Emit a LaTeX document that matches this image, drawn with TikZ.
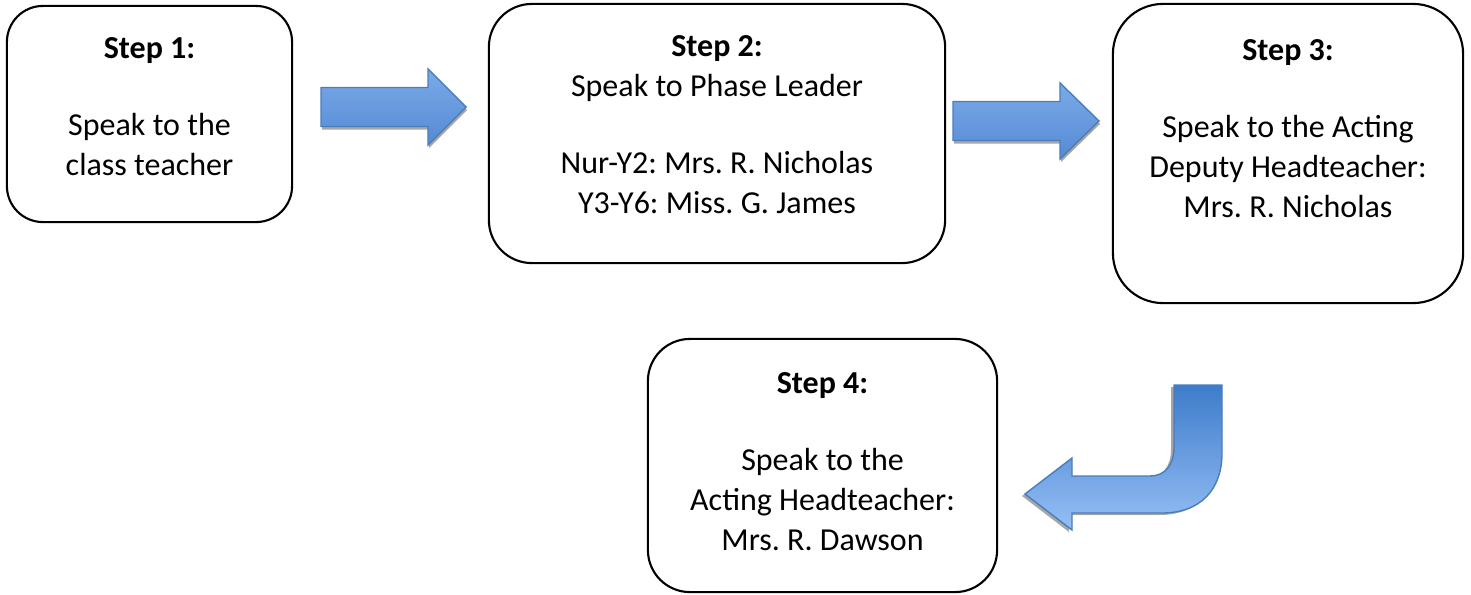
\documentclass[tikz,border=0pt]{standalone}
\usepackage{fontspec}
\setmainfont{Carlito}
\frenchspacing
\usetikzlibrary{positioning}
\definecolor{arrowline}{HTML}{4A7EBB}
\definecolor{arrowdark}{HTML}{3E7CCB}
\definecolor{arrowtop}{HTML}{7AAAE8}
\definecolor{arrowlight}{HTML}{96BFF5}
\definecolor{arrowlow}{HTML}{558AD4}
\tikzset{
  stepbox/.style={draw, line width=0.6pt, inner sep=0pt},
  steptext/.style={align=center, inner sep=0pt, font=\fontsize{9.1}{11.35}\selectfont},
  blockarrow/.style={draw=arrowline, line width=0.4pt, line join=miter},
  arrowshadow/.style={fill=black!35},
}
\begin{document}
\begin{tikzpicture}[x=0.01cm, y=-0.01cm]
  \useasboundingbox (0,0) rectangle (1471,594);
  % boxes
  \node[stepbox, rounded corners=0.36cm, minimum width=2.85cm, minimum height=2.16cm] (s1) at (149.5,114) {};
  \node[stepbox, rounded corners=0.43cm, minimum width=4.56cm, minimum height=2.59cm] (s2) at (717,133.5) {};
  \node[stepbox, rounded corners=0.50cm, minimum width=3.50cm, minimum height=2.99cm] (s3) at (1288,153.5) {};
  \node[stepbox, rounded corners=0.42cm, minimum width=3.49cm, minimum height=2.53cm] (s4) at (822.5,465.5) {};
  % texts
  \node[steptext, below=0.32cm of s1.north] (t1) {\textbf{Step 1:}\\[10.6pt] Speak to the\\ class teacher};
  \node[steptext, below=0.32cm of s2.north] (t2) {\textbf{Step 2:}\\ Speak to Phase Leader\\[10.6pt] Nur-Y2: Mrs. R. Nicholas\\ Y3-Y6: Miss. G. James};
  \node[steptext, below=0.36cm of s3.north] (t3) {\textbf{Step 3:}\\[10.6pt] Speak to the Acting\\ Deputy Headteacher:\\ Mrs. R. Nicholas};
  \node[steptext, below=0.34cm of s4.north] (t4) {\textbf{Step 4:}\\[10.6pt] Speak to the\\ Acting Headteacher:\\ Mrs. R. Dawson};
  % straight arrows: shaft start / head base / tip / centre line
  \def\straight {321/428/466/107, 953/1060/1099/121}
  \foreach \xs\xh\xt\yc in \straight
  {  \fill[arrowshadow, shift={(1,3)}] (\xs,\yc-19.5) -- (\xh,\yc-19.5) -- (\xh,\yc-38) -- (\xt,\yc)
        -- (\xh,\yc+38) -- (\xh,\yc+19.5) -- (\xs,\yc+19.5) -- cycle;
     \path[blockarrow, top color=arrowtop, middle color=arrowlight, bottom color=arrowlow]
        (\xs,\yc-19.5) -- (\xh,\yc-19.5) -- (\xh,\yc-38) -- (\xt,\yc)
        -- (\xh,\yc+38) -- (\xh,\yc+19.5) -- (\xs,\yc+19.5) -- cycle;
  }
  % bent arrow
  \def\bent {(1174,385) -- (1222,385) -- (1222,453) .. controls (1222,490) and (1200,513) .. (1162,513)
    -- (1072,513) -- (1072,530) -- (1025,494) -- (1072,458) -- (1072,476) -- (1150,476)
    .. controls (1165,476) and (1174,465) .. (1174,447) -- cycle}
  \fill[arrowshadow, shift={(-3,2)}] \bent;
  \path[blockarrow, top color=arrowdark, bottom color=arrowlight] \bent;
\end{tikzpicture}
\end{document}
